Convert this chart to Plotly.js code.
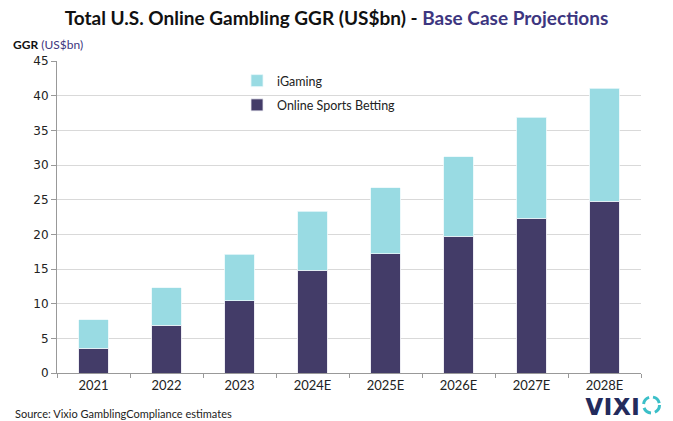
<!DOCTYPE html>
<html><head><meta charset="utf-8">
<script src="https://cdn.plot.ly/plotly-3.0.1.min.js"></script>
<style>html,body{margin:0;padding:0;background:#fff}#c{width:673px;height:421px}</style>
</head><body><div id="c"></div>
<script>
const years = ["2021","2022","2023","2024E","2025E","2026E","2027E","2028E"];
const sportsBetting = [3.6, 6.9, 10.4, 14.85, 17.2, 19.75, 22.3, 24.8];
const iGaming = [4.1, 5.4, 6.7, 8.45, 9.5, 11.45, 14.6, 16.3];
const yTicks = [0,5,10,15,20,25,30,35,40,45];

const dark = "#433c68", light = "#99dbe3";
const traces = [
  {type:"bar", name:"Online Sports Betting", x:years, y:sportsBetting, legendgroup:"a", legendrank:2,
   marker:{color:dark, line:{color:"#e8e8f0", width:0.8}}, hoverinfo:"y"},
  {type:"bar", name:"iGaming", x:years, y:iGaming, legendgroup:"b", legendrank:1,
   marker:{color:light, line:{color:"#e8f8fa", width:0.8}}, hoverinfo:"y"}
];
const layout = {
  width:673, height:421,
  margin:{l:57, r:32, t:61, b:48},
  paper_bgcolor:"#fff", plot_bgcolor:"#fff",
  barmode:"stack", bargap:0.6,
  showlegend:true,
  legend:{x:(237-57)/584, y:(373-66)/312, xanchor:"left", yanchor:"top", traceorder:"grouped",
    tracegroupgap:5, font:{family:"Lato, sans-serif", size:12.5, color:"#222"},
    itemwidth:30, bgcolor:"rgba(0,0,0,0)"},
  title:{text:"<b>Total U.S. Online Gambling GGR (US$bn) - <span style='color:#3d3680'>Base Case Projections</span></b>",
    x:0.5, xanchor:"center", xref:"container", y:0.957, yanchor:"middle",
    font:{family:"Lato, sans-serif", size:19, color:"#111"}},
  xaxis:{type:"category", tickson:"boundaries", ticks:"outside", ticklen:4, tickcolor:"#999",
    showline:true, linecolor:"#999", linewidth:1, showgrid:false,
    tickfont:{family:"Lato, sans-serif", size:13, color:"#222"}},
  yaxis:{range:[0,45], tickvals:yTicks, ticks:"outside", ticklen:5, tickcolor:"#999",
    showline:true, linecolor:"#999", linewidth:1, gridcolor:"#d9d9d9", gridwidth:1,
    zeroline:false, tickfont:{family:"DejaVu Sans, sans-serif", size:12, color:"#222"}},
  annotations:[
    {xref:"paper", yref:"paper", x:-46/584, y:1+16/312, xanchor:"left", yanchor:"middle",
     text:"<b>GGR</b> <span style='color:#3d3680'>(US$bn)</span>", showarrow:false,
     font:{family:"Lato, sans-serif", size:12, color:"#111"}},
    {xref:"paper", yref:"paper", x:-44/584, y:-40/312, xanchor:"left", yanchor:"middle",
     text:"Source: Vixio GamblingCompliance estimates", showarrow:false,
     font:{family:"Lato, sans-serif", size:11, color:"#222"}},
    {xref:"paper", yref:"paper", x:(642-57)/584, y:-34/312, xanchor:"right", yanchor:"middle",
     text:"<b>VIXI</b>", showarrow:false, height:18, valign:"middle",
     font:{family:"DejaVu Sans, sans-serif", size:24, color:"#232b5c"}}
  ],
  shapes:[
    {type:"circle", xref:"paper", yref:"paper", x0:(643.5-57)/584, x1:(659.5-57)/584,
     y0:(373-413)/312, y1:(373-397)/312, line:{color:"#3bbfc8", width:3, dash:"9px,4px"}}
  ]
};
Plotly.newPlot("c", traces, layout, {displayModeBar:false, staticPlot:true});
</script></body></html>
